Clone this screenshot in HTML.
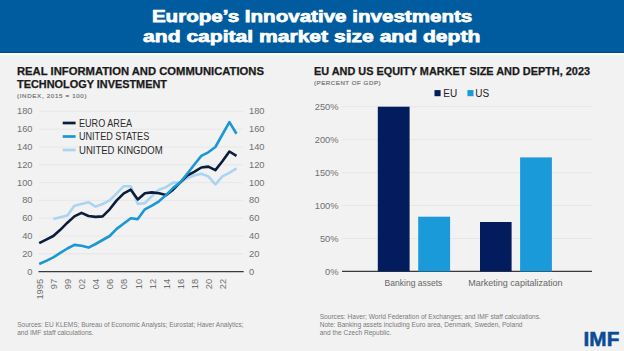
<!DOCTYPE html>
<html><head><meta charset="utf-8">
<style>
html,body{margin:0;padding:0;}
body{width:624px;height:351px;overflow:hidden;background:#f2f2f2;position:relative;font-family:"Liberation Sans",sans-serif;}
.hdr{position:absolute;left:0;top:0;width:624px;height:53px;background:#005c9f;}
.hdrdark{position:absolute;left:0;top:51.5px;width:624px;height:1.5px;background:#034a86;}
.hdrline{position:absolute;left:0;top:53px;width:624px;height:2px;background:#f8fbff;}
svg{position:absolute;left:0;top:0;}
</style></head><body>
<div class="hdr"></div><div class="hdrdark"></div><div class="hdrline"></div>
<svg width="624" height="351" viewBox="0 0 624 351" font-family="Liberation Sans, sans-serif">
<g font-weight="bold" fill="#fff" font-size="17.1" stroke="#fff" stroke-width="0.75">
<text x="151.9" y="21.7" textLength="320.4" lengthAdjust="spacingAndGlyphs">Europe’s Innovative investments</text>
<text x="143.1" y="42.1" textLength="337.2" lengthAdjust="spacingAndGlyphs">and capital market size and depth</text>
</g>
<g font-weight="bold" fill="#1a1a1a" font-size="10.4" stroke="#1a1a1a" stroke-width="0.25">
<text x="17" y="75" textLength="247" lengthAdjust="spacingAndGlyphs">REAL INFORMATION AND COMMUNICATIONS</text>
<text x="17" y="87.6" textLength="150" lengthAdjust="spacingAndGlyphs">TECHNOLOGY INVESTMENT</text>
<text x="314" y="75" textLength="276" lengthAdjust="spacingAndGlyphs">EU AND US EQUITY MARKET SIZE AND DEPTH, 2023</text>
</g>
<g fill="#777" font-size="6.2" stroke="#777" stroke-width="0.2">
<text x="17" y="97.8" textLength="69.5" lengthAdjust="spacing">(INDEX, 2015 = 100)</text>
<text x="314" y="84.9" textLength="66.6" lengthAdjust="spacing">(PERCENT OF GDP)</text>
</g>
<g stroke="#e5e5e5" stroke-width="0.9"><line x1="39" y1="253.8" x2="243" y2="253.8"/><line x1="39" y1="236.0" x2="243" y2="236.0"/><line x1="39" y1="218.2" x2="243" y2="218.2"/><line x1="39" y1="200.4" x2="243" y2="200.4"/><line x1="39" y1="182.6" x2="243" y2="182.6"/><line x1="39" y1="164.8" x2="243" y2="164.8"/><line x1="39" y1="147.0" x2="243" y2="147.0"/><line x1="39" y1="129.2" x2="243" y2="129.2"/><line x1="39" y1="111.4" x2="243" y2="111.4"/><line x1="342" y1="238.5" x2="592" y2="238.5"/><line x1="342" y1="205.5" x2="592" y2="205.5"/><line x1="342" y1="172.6" x2="592" y2="172.6"/><line x1="342" y1="139.6" x2="592" y2="139.6"/><line x1="342" y1="106.7" x2="592" y2="106.7"/></g>
<g fill="#707070" font-size="9.3"><text x="32.5" y="274.5" text-anchor="end">0</text><text x="249" y="274.5">0</text><text x="32.5" y="256.7" text-anchor="end">20</text><text x="249" y="256.7">20</text><text x="32.5" y="238.9" text-anchor="end">40</text><text x="249" y="238.9">40</text><text x="32.5" y="221.1" text-anchor="end">60</text><text x="249" y="221.1">60</text><text x="32.5" y="203.3" text-anchor="end">80</text><text x="249" y="203.3">80</text><text x="32.5" y="185.5" text-anchor="end">100</text><text x="249" y="185.5">100</text><text x="32.5" y="167.7" text-anchor="end">120</text><text x="249" y="167.7">120</text><text x="32.5" y="149.9" text-anchor="end">140</text><text x="249" y="149.9">140</text><text x="32.5" y="132.1" text-anchor="end">160</text><text x="249" y="132.1">160</text><text x="32.5" y="114.3" text-anchor="end">180</text><text x="249" y="114.3">180</text><text x="338.5" y="275.1" text-anchor="end">0%</text><text x="338.5" y="242.2" text-anchor="end">50%</text><text x="338.5" y="209.2" text-anchor="end">100%</text><text x="338.5" y="176.3" text-anchor="end">150%</text><text x="338.5" y="143.3" text-anchor="end">200%</text><text x="338.5" y="110.4" text-anchor="end">250%</text></g>
<g fill="#707070" font-size="9.3"><text transform="translate(42.9,278.9) rotate(-90)" text-anchor="end">1995</text><text transform="translate(57.0,278.9) rotate(-90)" text-anchor="end">97</text><text transform="translate(71.1,278.9) rotate(-90)" text-anchor="end">99</text><text transform="translate(85.2,278.9) rotate(-90)" text-anchor="end">02</text><text transform="translate(99.3,278.9) rotate(-90)" text-anchor="end">04</text><text transform="translate(113.4,278.9) rotate(-90)" text-anchor="end">06</text><text transform="translate(127.4,278.9) rotate(-90)" text-anchor="end">08</text><text transform="translate(141.5,278.9) rotate(-90)" text-anchor="end">10</text><text transform="translate(155.6,278.9) rotate(-90)" text-anchor="end">12</text><text transform="translate(169.7,278.9) rotate(-90)" text-anchor="end">14</text><text transform="translate(183.8,278.9) rotate(-90)" text-anchor="end">16</text><text transform="translate(197.9,278.9) rotate(-90)" text-anchor="end">18</text><text transform="translate(212.0,278.9) rotate(-90)" text-anchor="end">20</text><text transform="translate(226.1,278.9) rotate(-90)" text-anchor="end">22</text></g>
<line x1="38.5" y1="271.7" x2="243.7" y2="271.7" stroke="#3a3a3a" stroke-width="1.3"/>
<line x1="342" y1="271.4" x2="592" y2="271.4" stroke="#3a3a3a" stroke-width="1.3"/>
<g fill="none" stroke-width="2.6" stroke-linejoin="round">
<polyline points="53.3,219.1 60.3,217.3 67.4,215.5 74.4,205.7 81.5,204.0 88.5,202.2 95.6,206.6 102.6,204.0 109.7,200.4 116.7,193.3 123.8,186.2 130.8,186.2 137.8,204.0 144.9,203.1 151.9,196.0 159.0,189.7 166.0,187.1 173.1,182.6 180.1,182.6 187.2,178.2 194.2,175.5 201.3,173.7 208.3,176.4 215.4,184.4 222.4,176.4 229.4,172.8 236.5,168.4" stroke="#a9d5f2"/>
<polyline points="39.2,243.1 46.2,239.6 53.3,236.0 60.3,229.8 67.4,222.7 74.4,216.4 81.5,212.9 88.5,216.0 95.6,216.9 102.6,216.4 109.7,209.3 116.7,200.4 123.8,193.3 130.8,189.7 137.8,199.5 144.9,193.3 151.9,192.4 159.0,193.3 166.0,195.1 173.1,189.7 180.1,182.6 187.2,175.5 194.2,171.9 201.3,167.5 208.3,166.6 215.4,170.1 222.4,161.2 229.4,151.5 236.5,155.9" stroke="#0b1d3a"/>
<polyline points="39.2,264.0 46.2,260.9 53.3,257.4 60.3,252.9 67.4,248.5 74.4,244.9 81.5,245.8 88.5,247.6 95.6,244.0 102.6,240.0 109.7,236.0 116.7,228.9 123.8,223.5 130.8,218.2 137.8,219.1 144.9,209.3 151.9,205.7 159.0,201.3 166.0,195.1 173.1,187.9 180.1,182.6 187.2,173.7 194.2,164.8 201.3,155.9 208.3,152.3 215.4,147.0 222.4,134.5 229.4,122.1 236.5,133.7" stroke="#1a98d5"/>
</g>
<g stroke-width="2.7">
<line x1="62.7" y1="123" x2="75.6" y2="123" stroke="#0b1d3a"/>
<line x1="62.7" y1="136.5" x2="75.6" y2="136.5" stroke="#1a98d5"/>
<line x1="62.7" y1="150" x2="75.6" y2="150" stroke="#a9d5f2"/>
</g>
<g fill="#2a2a2a" font-size="10">
<text x="79" y="126.7" textLength="53" lengthAdjust="spacingAndGlyphs">EURO AREA</text>
<text x="79" y="140.2" textLength="70.2" lengthAdjust="spacingAndGlyphs">UNITED STATES</text>
<text x="79" y="153.6" textLength="83.7" lengthAdjust="spacingAndGlyphs">UNITED KINGDOM</text>
</g>
<rect x="377.8" y="106.7" width="31.8" height="164.7" fill="#021c5e"/><rect x="418.2" y="216.7" width="31.9" height="54.7" fill="#1a9ad8"/><rect x="480.0" y="222.0" width="31.6" height="49.4" fill="#021c5e"/><rect x="520.1" y="157.4" width="31.8" height="114.0" fill="#1a9ad8"/>
<rect x="434.5" y="90.1" width="6.1" height="6.1" fill="#021c5e"/>
<rect x="467.4" y="90.1" width="6.1" height="6.1" fill="#1a9ad8"/>
<g fill="#222" font-size="10">
<text x="443.3" y="96.8">EU</text>
<text x="475.3" y="96.8">US</text>
</g>
<g fill="#666" font-size="9.5">
<text x="384.6" y="286" textLength="57.8" lengthAdjust="spacingAndGlyphs">Banking assets</text>
<text x="468.2" y="286" textLength="94.4" lengthAdjust="spacingAndGlyphs">Marketing capitalization</text>
</g>
<g fill="#7a7a7a" font-size="6.9">
<text x="17.2" y="326.8" textLength="226.5" lengthAdjust="spacingAndGlyphs">Sources: EU KLEMS; Bureau of Economic Analysis; Eurostat; Haver Analytics;</text>
<text x="17.2" y="334.5" textLength="76.5" lengthAdjust="spacingAndGlyphs">and IMF staff calculations.</text>
<text x="319.7" y="318.9" textLength="221.2" lengthAdjust="spacingAndGlyphs">Sources: Haver; World Federation of Exchanges; and IMF staff calculations.</text>
<text x="319.7" y="327" textLength="202.8" lengthAdjust="spacingAndGlyphs">Note: Banking assets including Euro area, Denmark, Sweden, Poland</text>
<text x="319.7" y="334.8" textLength="71.7" lengthAdjust="spacingAndGlyphs">and the Czech Republic.</text>
</g>
<text x="583.6" y="345.5" fill="#0b4c97" stroke="#0b4c97" stroke-width="0.5" font-weight="bold" font-size="19.6" textLength="35.7" lengthAdjust="spacingAndGlyphs">IMF</text>
</svg>
</body></html>
